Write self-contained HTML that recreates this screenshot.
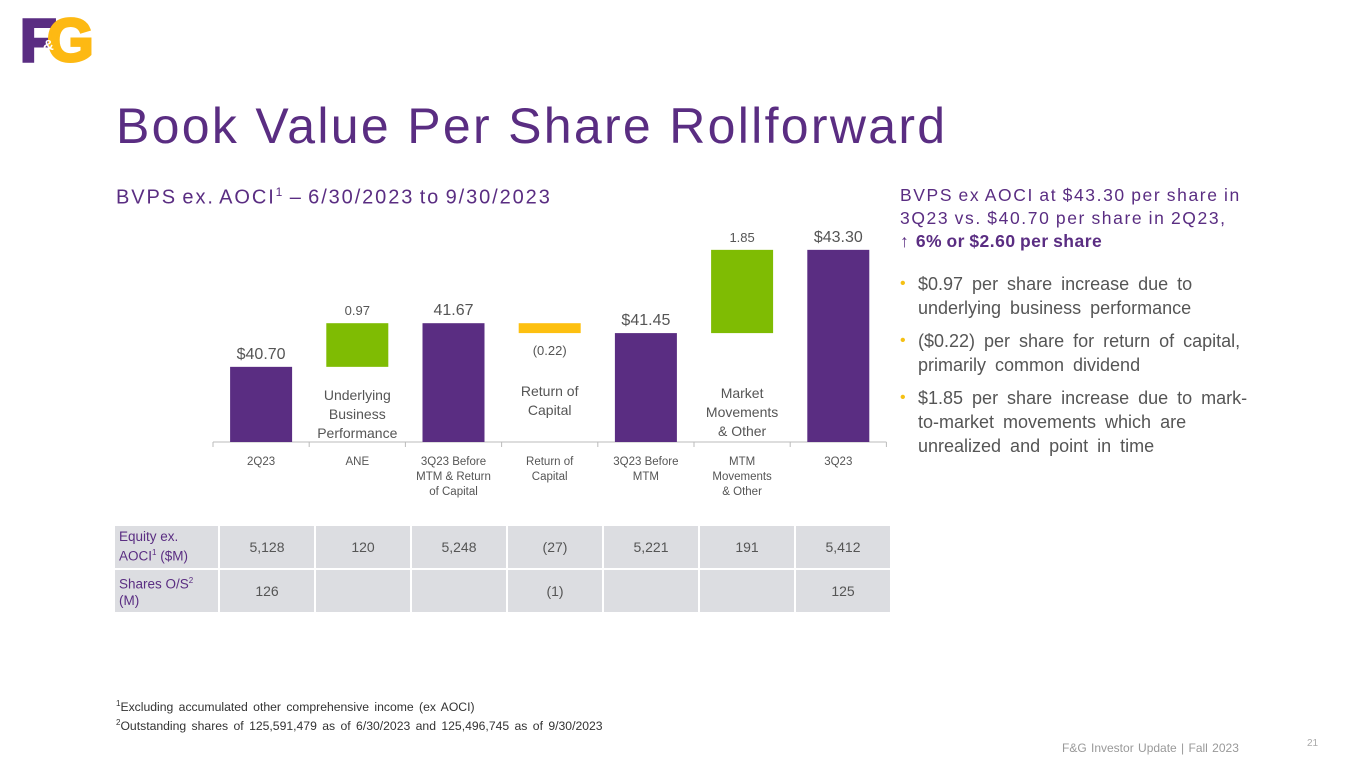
<!DOCTYPE html>
<html><head><meta charset="utf-8">
<style>
body{margin:0;width:1365px;height:768px;background:#fff;font-family:"Liberation Sans",sans-serif;position:relative;overflow:hidden}
.abs{position:absolute}
.purple{color:#5a2d82}
#chart text{font-family:"Liberation Sans",sans-serif}
table{border-collapse:separate;border-spacing:2px;position:absolute;left:113px;top:524px}
td{background:#dcdde1;color:#555;font-size:14px;text-align:center;height:42px;padding:0}
td.h{color:#5a2d82;text-align:left;padding-left:4px;font-size:13.5px;line-height:16px}
ul{margin:0;padding:0;list-style:none}
li{position:relative;padding-left:20px;margin-bottom:9px}
li:before{content:"•";color:#f5c014;position:absolute;left:2px;top:0;font-size:16px}
</style></head><body>
<div class="abs" style="left:21px;top:17px;width:70px;height:50px">
  <div class="abs" style="left:-1px;top:-6px;font:bold 60px 'Liberation Sans';color:#5a2d82;line-height:60px;-webkit-text-stroke:3px #5a2d82">F</div>
  <div class="abs" style="left:26px;top:-6px;font:bold 60px 'Liberation Sans';color:#fdb913;line-height:60px;-webkit-text-stroke:3px #fdb913">G</div>
  <div class="abs" style="left:22px;top:20px;font:bold 15px 'Liberation Sans';color:#fff">&amp;</div>
</div>
<div class="abs purple" style="left:116px;top:97px;font-size:50px;letter-spacing:2.3px">Book Value Per Share Rollforward</div>
<div class="abs purple" style="left:116px;top:185px;font-size:20px;letter-spacing:1.9px;word-spacing:-2px">BVPS ex. AOCI<sup style="font-size:12px">1</sup> – 6/30/2023 to 9/30/2023</div>

<svg id="chart" class="abs" style="left:0;top:0" width="900" height="520"></svg>

<table>
<tr><td class="h" style="width:99px">Equity ex.<br>AOCI<sup style="font-size:8px">1</sup> ($M)</td><td style="width:94px">5,128</td><td style="width:94px">120</td><td style="width:94px">5,248</td><td style="width:94px">(27)</td><td style="width:94px">5,221</td><td style="width:94px">191</td><td style="width:94px">5,412</td></tr>
<tr><td class="h">Shares O/S<sup style="font-size:8px">2</sup><br>(M)</td><td>126</td><td></td><td></td><td>(1)</td><td></td><td></td><td>125</td></tr>
</table>

<div class="abs purple" style="left:900px;top:184px;font-size:17.5px;line-height:23px;letter-spacing:1.6px;word-spacing:-1px">BVPS ex AOCI at $43.30 per share in<br>3Q23 vs. $40.70 per share in 2Q23,<br>↑ <b style="letter-spacing:0.5px">6% or $2.60 per share</b></div>
<ul class="abs" style="left:898px;top:272px;font-size:18px;line-height:24px;color:#555;width:390px;word-spacing:4px">
<li>$0.97 per share increase due to<br>underlying business performance</li>
<li>($0.22) per share for return of capital,<br>primarily common dividend</li>
<li>$1.85 per share increase due to mark-<br>to-market movements which are<br>unrealized and point in time</li>
</ul>

<div class="abs" style="left:116px;top:696px;font-size:12.2px;line-height:16px;color:#333;word-spacing:2px"><sup style="font-size:8px">1</sup>Excluding accumulated other comprehensive income (ex AOCI)<br><sup style="font-size:8px">2</sup>Outstanding shares of 125,591,479 as of 6/30/2023 and 125,496,745 as of 9/30/2023</div>
<div class="abs" style="left:1062px;top:741px;font-size:12px;color:#999;word-spacing:1px">F&amp;G Investor Update | Fall 2023</div>
<div class="abs" style="left:1307px;top:738px;font-size:10px;color:#aaa">21</div>

<script>
const categories=["2Q23","ANE","3Q23 Before|MTM & Return|of Capital","Return of|Capital","3Q23 Before|MTM","MTM|Movements|& Other","3Q23"];
const totals=[40.70,null,41.67,null,41.45,null,43.30];
const deltas=[null,0.97,null,-0.22,null,1.85,null];
const valueLabels=["$40.70","0.97","41.67","(0.22)","$41.45","1.85","$43.30"];
const innerLabels=["","Underlying|Business|Performance","","Return of|Capital","","Market|Movements|& Other",""];
const yMin=39.03, pxPerUnit=45, baseY=442, x0=213, catW=96.2, barW=62;
const NS="http://www.w3.org/2000/svg";
const svg=document.getElementById('chart');
function y(v){return baseY-(v-yMin)*pxPerUnit;}
function xc(i){return x0+catW*(i+0.5);}
function mk(t,a,p){const e=document.createElementNS(NS,t);for(const k in a)e.setAttribute(k,a[k]);(p||svg).appendChild(e);return e;}
const axis=mk('line',{x1:x0,x2:x0+catW*7,y1:baseY,y2:baseY,stroke:'#bbb','stroke-width':1});


for(let i=0;i<=7;i++){const t=mk('line',{x1:x0+catW*i,x2:x0+catW*i,y1:baseY,y2:baseY+5,stroke:'#bbb'});

}
let running=0;
categories.forEach((c,i)=>{
  let top,bot,fill;
  if(totals[i]!==null){running=totals[i];top=y(running);bot=baseY;fill='#5a2d82';}
  else{const s=running,e=running+deltas[i];top=y(Math.max(s,e));bot=y(Math.min(s,e));fill=deltas[i]>=0?'#7fbc03':'#fdc010';running=e;}
  const r=mk('rect',{x:xc(i)-barW/2,y:top,width:barW,height:bot-top,fill:fill});
  
  
  const big=totals[i]!==null;
  const neg=deltas[i]!==null&&deltas[i]<0;
  const ly=neg?bot+22:top-8;
  const vl=mk('text',{x:xc(i),y:ly,'text-anchor':'middle','font-size':big?16:13,fill:'#555'});
  vl.textContent=valueLabels[i];
  
  
  if(innerLabels[i]){innerLabels[i].split('|').forEach((s,k)=>{
    const t=mk('text',{x:xc(i),y:400+k*19-(neg?4:0)+(deltas[i]>1?-2:0),'text-anchor':'middle','font-size':14,fill:'#555'});
    t.textContent=s;
    
    });}
  c.split('|').forEach((s,k)=>{
    const t=mk('text',{x:xc(i),y:465+k*15,'text-anchor':'middle','font-size':11.5,fill:'#555'});
    t.textContent=s;
    
    });
});
</script>
</body></html>
